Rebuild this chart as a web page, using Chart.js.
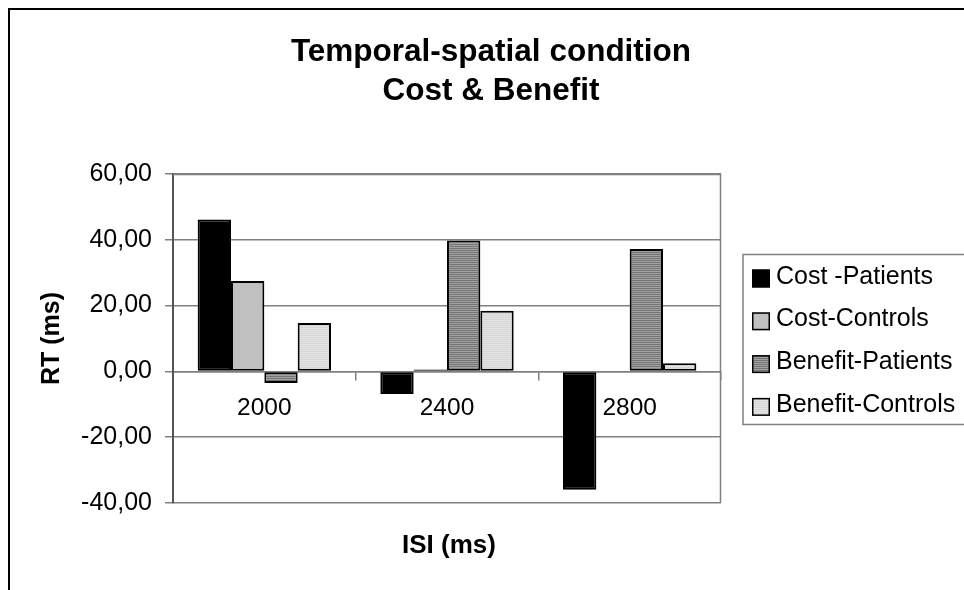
<!DOCTYPE html>
<html>
<head>
<meta charset="utf-8">
<script src="https://cdn.jsdelivr.net/npm/chart.js@4/dist/chart.umd.min.js"></script>
<style>
  html, body { margin: 0; padding: 0; background: #fff; overflow: hidden; }
  #wrap { width: 964px; height: 590px; position: relative; }
</style>
</head>
<body>
<div id="wrap"><canvas id="c" width="964" height="590"></canvas></div>
<script>
// ISI categories and reaction-time cost/benefit values (ms)
const categories = ['2000', '2400', '2800'];
const seriesNames = ['Cost -Patients', 'Cost-Controls', 'Benefit-Patients', 'Benefit-Controls'];
const costPatients = [46.2, -6.9, -36.0];
const costControls = [27.5, 0.6, 0];
const benefitPatients = [-3.5, 39.8, 37.2];
const benefitControls = [14.7, 18.4, 2.5];
const yTickValues = [-40, -20, 0, 20, 40, 60];
const titleLines = ['Temporal-spatial condition', 'Cost & Benefit'];
const yTitle = 'RT (ms)';
const xTitle = 'ISI (ms)';

const FONT = "'Liberation Sans', Arial, Helvetica, sans-serif";

// Fine horizontal hatch fills
function stripes(c1, c2) {
  const p = document.createElement('canvas');
  p.width = 4; p.height = 2;
  const g = p.getContext('2d');
  g.fillStyle = c1; g.fillRect(0, 0, 4, 1);
  g.fillStyle = c2; g.fillRect(0, 1, 4, 1);
  return g.createPattern(p, 'repeat');
}
const darkHatch = stripes('#747474', '#a2a2a2');
const lightHatch = stripes('#e4e4e4', '#d6d6d6');

const decor = {
  id: 'decor',
  beforeDraw(chart) {
    const ctx = chart.ctx;
    ctx.save();
    ctx.fillStyle = '#fff';
    ctx.fillRect(0, 0, chart.width, chart.height);
    ctx.strokeStyle = '#000';
    ctx.lineWidth = 2;
    ctx.strokeRect(9, 9, 2000, 2000);
    ctx.restore();
  },
  beforeDatasetsDraw(chart) {
    const { ctx, chartArea: a } = chart;
    ctx.save();
    ctx.strokeStyle = '#808080';
    ctx.lineWidth = 1.5;
    ctx.beginPath();
    ctx.moveTo(a.left, a.top + 0.5);
    ctx.lineTo(a.right - 0.5, a.top + 0.5);
    ctx.lineTo(a.right - 0.5, a.bottom);
    ctx.stroke();
    ctx.restore();
  },
  afterDraw(chart) {
    const ctx = chart.ctx;
    const a = chart.chartArea;
    ctx.save();
    ctx.fillStyle = '#000';
    // Title
    ctx.font = 'bold 31.5px ' + FONT;
    ctx.textAlign = 'center';
    ctx.textBaseline = 'alphabetic';
    ctx.fillText(titleLines[0], 491, 61);
    ctx.fillText(titleLines[1], 491, 100);
    // Axis titles
    ctx.font = 'bold 26px ' + FONT;
    ctx.fillText(xTitle, (a.left + a.right) / 2 + 2, 553);
    ctx.save();
    ctx.translate(52, (a.top + a.bottom) / 2);
    ctx.rotate(-Math.PI / 2);
    ctx.font = 'bold 25px ' + FONT;
    ctx.textBaseline = 'middle';
    ctx.fillText(yTitle, 0, 0);
    ctx.restore();
    // Legend
    ctx.strokeStyle = '#808080';
    ctx.lineWidth = 1.5;
    ctx.strokeRect(743, 254.5, 400, 170);
    ctx.font = '25px ' + FONT;
    ctx.textAlign = 'left';
    ctx.textBaseline = 'alphabetic';
    chart.data.datasets.forEach((d, i) => {
      const base = 283.5 + i * 42.8;
      ctx.fillStyle = d.backgroundColor;
      ctx.fillRect(752, base - 14, 18, 18);
      ctx.strokeStyle = '#000';
      ctx.lineWidth = 1.5;
      ctx.strokeRect(752.75, base - 13.25, 16.5, 16.5);
      ctx.fillStyle = '#000';
      ctx.fillText(d.label, 776, base);
    });
    ctx.restore();
  }
};

new Chart(document.getElementById('c').getContext('2d'), {
  type: 'bar',
  data: {
    labels: categories,
    datasets: [
      { label: seriesNames[0], data: costPatients, backgroundColor: '#000000', borderColor: '#000', borderWidth: 2 },
      { label: seriesNames[1], data: costControls, backgroundColor: '#c0c0c0', borderColor: '#000', borderWidth: 2 },
      { label: seriesNames[2], data: benefitPatients, backgroundColor: darkHatch, borderColor: '#000', borderWidth: 2 },
      { label: seriesNames[3], data: benefitControls, backgroundColor: lightHatch, borderColor: '#000', borderWidth: 2 }
    ]
  },
  options: {
    responsive: false,
    animation: false,
    devicePixelRatio: 1,
    layout: { padding: { left: 0, top: 174, right: 243, bottom: 87 } },
    datasets: { bar: { categoryPercentage: 0.73, barPercentage: 1, borderSkipped: false } },
    plugins: { legend: { display: false }, title: { display: false }, tooltip: { enabled: false } },
    scales: {
      x: {
        position: { y: 0 },
        offset: true,
        grid: { display: true, offset: true, drawOnChartArea: false, drawTicks: true, tickLength: 8, color: '#808080', lineWidth: 1.5 },
        border: { display: true, color: '#808080', width: 1.5 },
        ticks: { color: '#000', font: { family: FONT, size: 24.5 }, padding: 14, maxRotation: 0, autoSkip: false }
      },
      y: {
        min: -40,
        max: 60,
        afterBuildTicks: s => { s.ticks = yTickValues.map(v => ({ value: v })); },
        afterFit: s => { s.width = 173; },
        grid: { color: '#808080', lineWidth: 1.5, tickLength: 8 },
        border: { display: true, color: '#555555', width: 2 },
        ticks: {
          color: '#000',
          font: { family: FONT, size: 25 },
          padding: 13,
          callback: v => Number(v).toFixed(2).replace('.', ',')
        }
      }
    }
  },
  plugins: [decor]
});
</script>
</body>
</html>
